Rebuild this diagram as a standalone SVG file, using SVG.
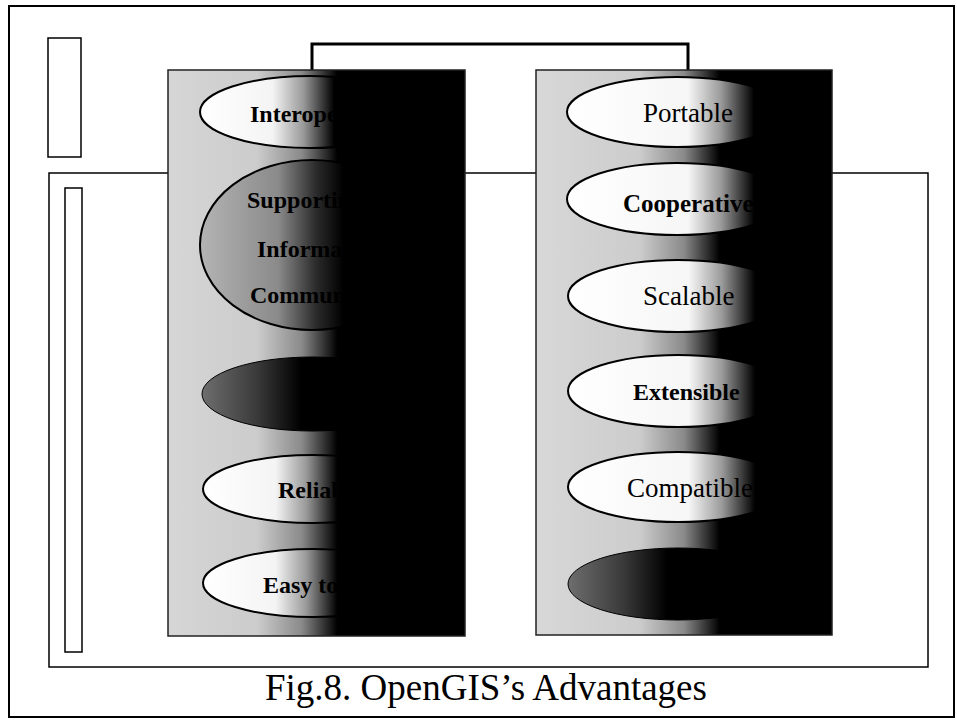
<svg xmlns="http://www.w3.org/2000/svg" width="957" height="720" viewBox="0 0 957 720">
<defs>
<linearGradient id="panelL" x1="0" y1="0" x2="1" y2="0">
<stop offset="0" stop-color="#d6d6d6"/>
<stop offset="0.3" stop-color="#cccccc"/>
<stop offset="0.45" stop-color="#8a8a8a"/>
<stop offset="0.57" stop-color="#000"/>
<stop offset="1" stop-color="#000"/>
</linearGradient>
<linearGradient id="panelR" x1="0" y1="0" x2="1" y2="0">
<stop offset="0" stop-color="#d8d8d8"/>
<stop offset="0.35" stop-color="#cccccc"/>
<stop offset="0.5" stop-color="#8a8a8a"/>
<stop offset="0.62" stop-color="#000"/>
<stop offset="1" stop-color="#000"/>
</linearGradient>
<linearGradient id="ellWL" x1="0" y1="0" x2="1" y2="0">
<stop offset="0" stop-color="#fff"/>
<stop offset="0.33" stop-color="#f4f4f4"/>
<stop offset="0.47" stop-color="#999"/>
<stop offset="0.61" stop-color="#000"/>
<stop offset="1" stop-color="#000"/>
</linearGradient>
<linearGradient id="ellWR" x1="0" y1="0" x2="1" y2="0">
<stop offset="0" stop-color="#fff"/>
<stop offset="0.55" stop-color="#f6f6f6"/>
<stop offset="0.7" stop-color="#9a9a9a"/>
<stop offset="0.85" stop-color="#000"/>
<stop offset="1" stop-color="#000"/>
</linearGradient>
<linearGradient id="ellG" x1="0" y1="0" x2="1" y2="0">
<stop offset="0" stop-color="#b4b4b4"/>
<stop offset="0.35" stop-color="#8a8a8a"/>
<stop offset="0.52" stop-color="#2a2a2a"/>
<stop offset="0.64" stop-color="#000"/>
<stop offset="1" stop-color="#000"/>
</linearGradient>
<linearGradient id="ellD" x1="0" y1="0" x2="1" y2="0">
<stop offset="0" stop-color="#6e6e6e"/>
<stop offset="0.25" stop-color="#3a3a3a"/>
<stop offset="0.45" stop-color="#000"/>
<stop offset="1" stop-color="#000"/>
</linearGradient>
<style>
.frame{fill:none;stroke:#000;stroke-width:2}
.thin{fill:#fff;stroke:#000;stroke-width:1.5}
.panel{stroke:#222;stroke-width:1.5}
.ell{stroke:#000;stroke-width:2}
.t{font-family:"Liberation Serif","Times New Roman",serif;font-size:24px;fill:#000}
.r{font-size:27px}
.b{font-weight:bold}
.cap{font-family:"Liberation Serif","Times New Roman",serif;font-size:37px;fill:#000}
</style>
</defs>
<rect id="border" class="frame" x="9" y="6" width="945" height="711"/>
<rect id="topBox" class="thin" x="48" y="38" width="33" height="119"/>
<rect id="bigBox" class="thin" x="49" y="173" width="879" height="494"/>
<rect id="sideBar" class="thin" x="65" y="188" width="17" height="464"/>
<g id="connectors">
<polyline points="312,70 312,44 688,44 688,70" fill="none" stroke="#000" stroke-width="3"/>
</g>
<g id="leftPanel">
<rect class="panel" x="168" y="70" width="297" height="566" fill="url(#panelL)"/>
<g id="n-interoperable">
<ellipse class="ell" cx="310" cy="112" rx="110" ry="36" fill="url(#ellWL)"/>
<text class="t b" x="250" y="122">Interoperable</text>
</g>
<g id="n-supporting">
<ellipse class="ell" cx="312" cy="245" rx="112" ry="85" fill="url(#ellG)"/>
<text class="t b" x="247" y="208">Supporting</text>
<text class="t b" x="257" y="257">Information</text>
<text class="t b" x="250" y="303">Community</text>
</g>
<g id="n-dark-left">
<ellipse cx="312" cy="394" rx="110" ry="37" fill="url(#ellD)" stroke="#000" stroke-width="1"/>
</g>
<g id="n-reliable">
<ellipse class="ell" cx="313" cy="489" rx="110" ry="34" fill="url(#ellWL)"/>
<text class="t b" x="278" y="498">Reliable</text>
</g>
<g id="n-easy">
<ellipse class="ell" cx="313" cy="583" rx="110" ry="34" fill="url(#ellWL)"/>
<text class="t b" x="263" y="593">Easy to use</text>
</g>
</g>
<g id="rightPanel">
<rect class="panel" x="536" y="70" width="296" height="565" fill="url(#panelR)"/>
<g id="n-portable">
<ellipse class="ell" cx="677" cy="112" rx="110" ry="35" fill="url(#ellWR)"/>
<text class="t r" x="643" y="122">Portable</text>
</g>
<g id="n-cooperative">
<ellipse class="ell" cx="677" cy="199" rx="110" ry="36" fill="url(#ellWR)"/>
<text class="t b" x="623" y="212" style="font-size:25px">Cooperative</text>
</g>
<g id="n-scalable">
<ellipse class="ell" cx="678" cy="296" rx="110" ry="36" fill="url(#ellWR)"/>
<text class="t r" x="643" y="305">Scalable</text>
</g>
<g id="n-extensible">
<ellipse class="ell" cx="678" cy="391" rx="110" ry="36" fill="url(#ellWR)"/>
<text class="t b" x="633" y="400">Extensible</text>
</g>
<g id="n-compatible">
<ellipse class="ell" cx="678" cy="487" rx="110" ry="35" fill="url(#ellWR)"/>
<text class="t r" x="627" y="497">Compatible</text>
</g>
<g id="n-dark-right">
<ellipse cx="678" cy="584" rx="110" ry="36" fill="url(#ellD)" stroke="#000" stroke-width="1"/>
</g>
</g>
<text id="caption" class="cap" x="265" y="700">Fig.8. OpenGIS’s Advantages</text>
</svg>
